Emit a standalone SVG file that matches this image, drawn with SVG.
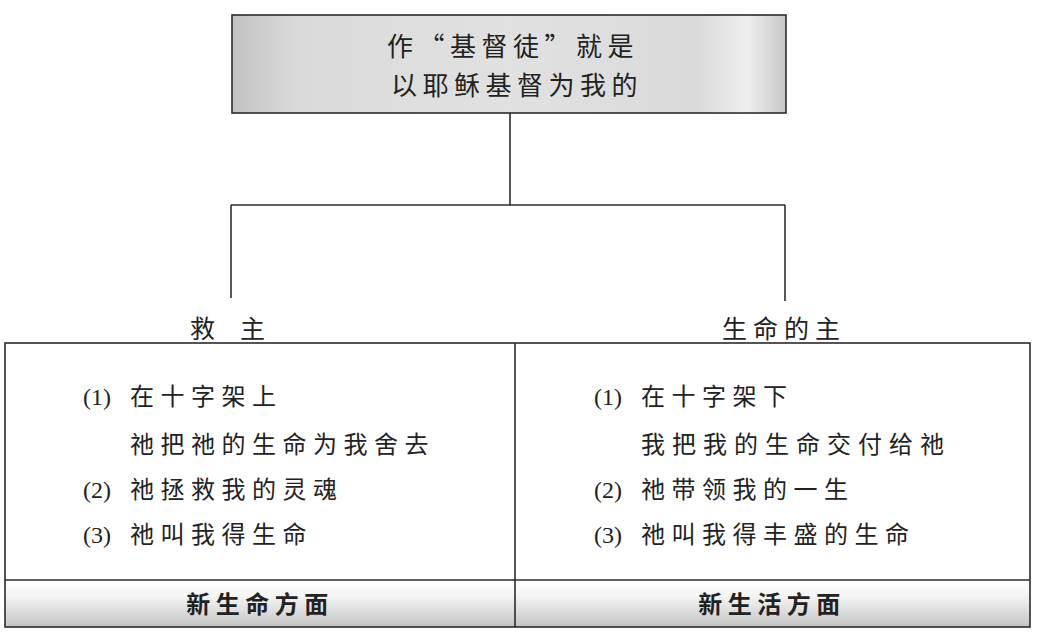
<svg xmlns="http://www.w3.org/2000/svg" width="1037" height="643" viewBox="0 0 1037 643">
<style>
.ln{stroke:#2b2b2b;stroke-width:1.6;fill:none}
.t{font-family:"Liberation Serif","Noto Sans CJK SC",serif;fill:#222}
.c{font-family:"Noto Sans CJK SC",sans-serif;fill:#222}
.title{font-size:26px;letter-spacing:5.5px}
.lab{font-size:25px}
.item{font-size:24px;letter-spacing:6.5px}
.num{font-size:24px}
.foot{font-size:24px;font-weight:bold;letter-spacing:5.5px}
</style>
<defs>
<linearGradient id="gTop" x1="0" y1="0" x2="1" y2="0">
<stop offset="0" stop-color="#c2c2c2"/>
<stop offset="0.12" stop-color="#dadada"/>
<stop offset="0.5" stop-color="#e1e1e1"/>
<stop offset="0.84" stop-color="#dadada"/>
<stop offset="0.93" stop-color="#eeeeee"/>
<stop offset="1" stop-color="#c6c6c6"/>
</linearGradient>
<linearGradient id="gBot" x1="0" y1="0" x2="0" y2="1">
<stop offset="0" stop-color="#ffffff"/>
<stop offset="0.35" stop-color="#f4f4f4"/>
<stop offset="1" stop-color="#c4c4c4"/>
</linearGradient>
</defs>
<rect width="1037" height="643" fill="#ffffff"/>

<g id="connectors">
<line class="ln" x1="510" y1="113" x2="510" y2="205"/>
<line class="ln" x1="231" y1="205" x2="785" y2="205"/>
<line class="ln" x1="231" y1="205" x2="231" y2="298"/>
<line class="ln" x1="785" y1="205" x2="785" y2="301"/>
</g>

<g id="root">
<rect x="232" y="15" width="554" height="98" fill="url(#gTop)" stroke="#2b2b2b" stroke-width="1.6"/>
<text class="c title" x="513" y="56" text-anchor="middle">作“基督徒”就是</text>
<text class="c title" x="517" y="95" text-anchor="middle">以耶稣基督为我的</text>
</g>

<g id="label-left">
<text class="c lab" x="190" y="338">救　主</text>
</g>
<g id="label-right">
<text class="c lab" x="722" y="338" style="letter-spacing:6px">生命的主</text>
</g>

<g id="table">
<rect x="5" y="580" width="1025" height="47" fill="url(#gBot)"/>
<rect x="5" y="343" width="1025" height="284" class="ln"/>
<line class="ln" x1="5" y1="580" x2="1030" y2="580"/>
<line class="ln" x1="515" y1="343" x2="515" y2="627"/>
</g>

<g id="left-cell">
<text class="t num" x="83" y="405">(1)</text>
<text class="c item" x="130" y="405">在十字架上</text>
<text class="c item" x="130" y="453">祂把祂的生命为我舍去</text>
<text class="t num" x="83" y="498">(2)</text>
<text class="c item" x="130" y="498">祂拯救我的灵魂</text>
<text class="t num" x="83" y="543">(3)</text>
<text class="c item" x="130" y="543">祂叫我得生命</text>
</g>

<g id="right-cell">
<text class="t num" x="594" y="405">(1)</text>
<text class="c item" x="641" y="405">在十字架下</text>
<text class="c item" x="641" y="453" style="letter-spacing:7px">我把我的生命交付给祂</text>
<text class="t num" x="594" y="498">(2)</text>
<text class="c item" x="641" y="498">祂带领我的一生</text>
<text class="t num" x="594" y="543">(3)</text>
<text class="c item" x="641" y="543">祂叫我得丰盛的生命</text>
</g>

<g id="foot-left">
<text class="c foot" x="260" y="613" text-anchor="middle">新生命方面</text>
</g>
<g id="foot-right">
<text class="c foot" x="772" y="613" text-anchor="middle">新生活方面</text>
</g>
</svg>
